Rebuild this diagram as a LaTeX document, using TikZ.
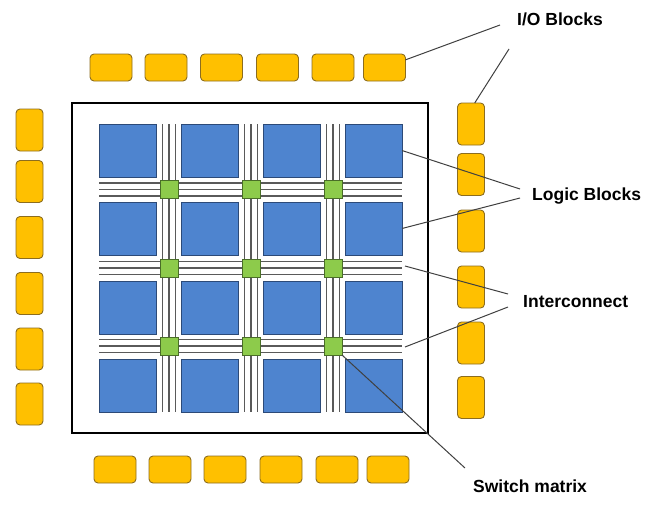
\documentclass[tikz,border=0pt]{standalone}
\usepackage{fontspec}
\setmainfont{Liberation Sans}
\definecolor{ioFill}{HTML}{FFC000}
\definecolor{ioDraw}{HTML}{8C6D1F}
\definecolor{lbFill}{HTML}{4E84CF}
\definecolor{lbDraw}{HTML}{2C4A78}
\definecolor{smFill}{HTML}{8DCB4B}
\definecolor{smDraw}{HTML}{4A6E28}
\definecolor{wireGray}{HTML}{5A5A5A}
\begin{document}
\begin{tikzpicture}[x=1pt,y=-1pt,
 io/.style={draw=ioDraw, fill=ioFill, rounded corners=4pt, line width=0.9pt, inner sep=0pt, outer sep=0pt},
 iohor/.style={io, minimum width=42pt, minimum height=27pt},
 iover/.style={io, minimum width=27pt, minimum height=42pt},
 logic/.style={draw=lbDraw, fill=lbFill, line width=0.9pt, minimum width=57pt, minimum height=53pt, inner sep=0pt, outer sep=0pt},
 switchbox/.style={draw=smDraw, fill=smFill, line width=0.8pt, minimum size=18pt, inner sep=0pt, outer sep=0pt},
 wire/.style={draw=wireGray, line width=1.3pt},
 callout/.style={draw=black!75, line width=1pt},
 lbl/.style={font=\bfseries\fontsize{17.5}{20}\selectfont, inner sep=0pt, anchor=base west}]
\useasboundingbox (0,0) rectangle (659,509);
% chip frame
\node[draw=black, line width=1.8pt, minimum width=356pt, minimum height=330pt, inner sep=0pt] (chip) at (250,268) {};
% routing wires
\foreach \cx in {169,251,333}{
  \foreach \o in {-6.5,0,6.5}{
    \draw[wire] (\cx+\o,124) -- (\cx+\o,412);
  }
}
\foreach \cy in {189.5,268,346}{
  \foreach \o in {-6.5,0,6.5}{
    \draw[wire] (99,\cy+\o) -- (402,\cy+\o);
  }
}
% logic blocks
\foreach \r/\y in {1/150.5,2/228.5,3/307.5,4/385.5}{
  \foreach \c/\x in {1/127.5,2/209.5,3/291.5,4/373.5}{
    \node[logic] (lb-\r-\c) at (\x,\y) {};
  }
}
% switch matrices
\foreach \r/\y in {1/189.5,2/268,3/346}{
  \foreach \c/\x in {1/169,2/251,3/333}{
    \node[switchbox] (sw-\r-\c) at (\x,\y) {};
  }
}
% I/O blocks
\foreach \i/\x in {1/111,2/166,3/221.5,4/277.5,5/333,6/384.5}{
  \node[iohor] (iot\i) at (\x,67.5) {};
}
\foreach \i/\x in {1/115,2/170,3/225,4/281,5/337,6/388}{
  \node[iohor] (iob\i) at (\x,469.5) {};
}
\foreach \i/\y in {1/130,2/181.5,3/237.5,4/293.5,5/349,6/404}{
  \node[iover] (iol\i) at (29.5,\y) {};
}
\foreach \i/\y in {1/124,2/174.5,3/231,4/287,5/343,6/397.5}{
  \node[iover] (ior\i) at (471,\y) {};
}
% labels
\node[lbl] (lio) at (517,25) {I/O Blocks};
\node[lbl] (llb) at (532,200) {Logic Blocks};
\node[lbl] (lic) at (523,307) {Interconnect};
\node[lbl] (lsw) at (473,492) {Switch matrix};
% callout ends
\coordinate (c-io1) at (500,25);
\coordinate (c-io2) at (509,49);
\coordinate (c-lb1) at (520,189);
\coordinate (c-lb2) at (520,198);
\coordinate (c-ic1) at (508,294);
\coordinate (c-ic2) at (508,307);
\coordinate (c-sw) at (465,468);
\coordinate (w-ic1) at (405,266);
\coordinate (w-ic2) at (405,347);
% callouts
\draw[callout] (c-io1) -- (iot6.20);
\draw[callout] (c-io2) -- (ior1.80);
\draw[callout] (c-lb1) -- (lb-1-4.east);
\draw[callout] (c-lb2) -- (lb-2-4.east);
\draw[callout] (c-ic1) -- (w-ic1);
\draw[callout] (c-ic2) -- (w-ic2);
\draw[callout] (sw-3-3.south east) -- (c-sw);
\end{tikzpicture}
\end{document}
